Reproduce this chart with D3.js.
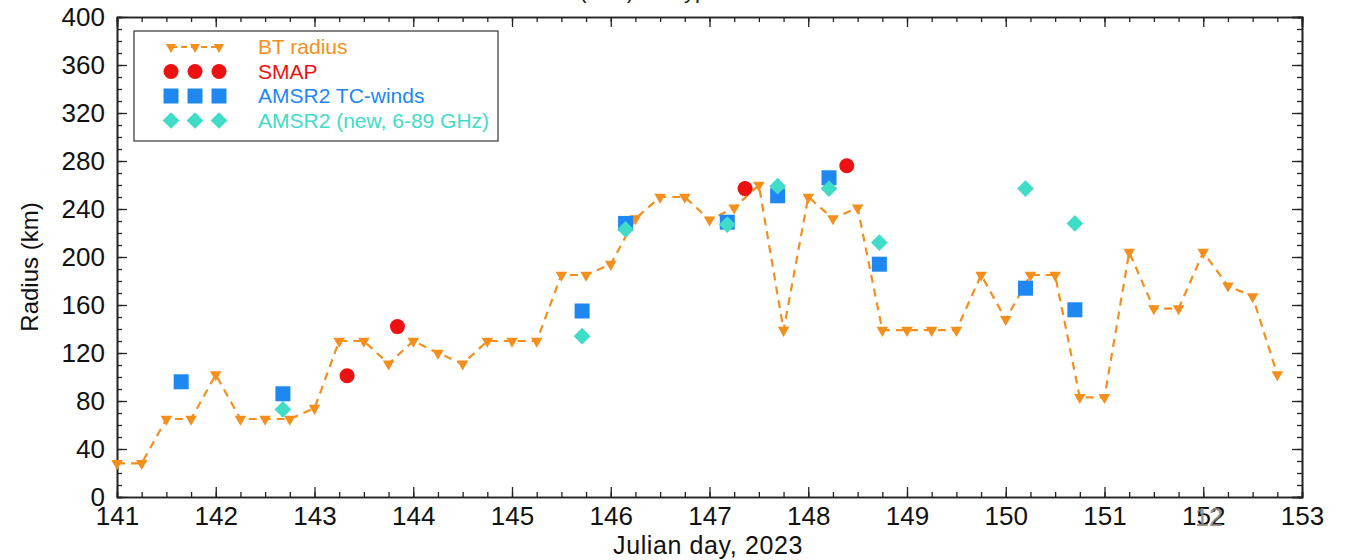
<!DOCTYPE html>
<html>
<head>
<meta charset="utf-8">
<script src="https://cdn.jsdelivr.net/npm/d3@7"></script>
<style>
  body { margin: 0; background: #fff; }
  svg { font-family: "Liberation Sans", Arial, sans-serif; }
</style>
</head>
<body>
<svg id="chart" width="1355" height="560"></svg>
<script>
// best track radius, every 6 h from day 141.00
var btStart = 141;
var btRadius = [28, 28, 65, 65, 102, 65, 65, 65, 74, 130, 130, 111, 130, 120, 111, 130,
  130, 130, 185, 185, 194, 232, 250, 250, 231, 241, 260, 139, 250, 232, 241, 139,
  139, 139, 139, 185, 148, 185, 185, 83, 83, 204, 157, 157, 204, 176, 167, 102];

var smapDay = [143.33, 143.84, 147.36, 148.39];
var smapRadius = [101, 142, 257, 276];

var tcwDay = [141.65, 142.68, 145.71, 146.15, 147.18, 147.69, 148.21, 148.72, 150.2, 150.7];
var tcwRadius = [96, 86, 155, 228, 229, 251, 266, 194, 174, 156];

var newDay = [142.68, 145.71, 146.15, 147.18, 147.69, 148.21, 148.72, 150.2, 150.7];
var newRadius = [73, 134, 223, 227, 259, 257, 212, 257, 228];

var xTicks = d3.range(141, 154, 1);
var yTicks = d3.range(0, 401, 40);

var colBT = "#f48f1e", colSMAP = "#ee1111", colTCW = "#1e88f0", colNew = "#3fdcc8";

function drawChart() {
  var svg = d3.select("#chart");
  var pLeft = 117, pRight = 1302, pTop = 17, pBottom = 497;

  var x = d3.scaleLinear().domain([141, 153]).range([pLeft, pRight]);
  var y = d3.scaleLinear().domain([0, 400]).range([pBottom, pTop]);

  // title (cut off at top of the slide)
  svg.append("text").attr("x", 720).attr("y", -2).attr("text-anchor", "middle")
    .attr("font-size", 22).attr("fill", "#222")
    .text("Radius of 34-kt winds (R34) for Typhoon Mawar: BT vs satellite estimates");

  // axes with ticks on all sides, pointing inward
  function frameAxis(axis, tr) {
    return svg.append("g").attr("transform", tr).call(axis)
      .call(function (g) { g.select(".domain").attr("stroke-width", 1.6).attr("stroke", "#222"); });
  }
  var xMinor = d3.range(141, 153.01, 0.25);
  var yMinor = d3.range(0, 401, 10);

  frameAxis(d3.axisBottom(x).tickValues(xMinor).tickSize(-5).tickFormat(""), "translate(0," + pBottom + ")");
  frameAxis(d3.axisBottom(x).tickValues(xTicks).tickSize(-10).tickSizeOuter(0).tickPadding(7).tickFormat(d3.format("d")), "translate(0," + pBottom + ")")
    .selectAll("text").attr("font-size", 26).attr("fill", "#111").attr("dy", "0.8em");
  frameAxis(d3.axisTop(x).tickValues(xMinor).tickSize(-5).tickFormat(""), "translate(0," + pTop + ")");
  frameAxis(d3.axisTop(x).tickValues(xTicks).tickSize(-10).tickFormat(""), "translate(0," + pTop + ")");

  frameAxis(d3.axisLeft(y).tickValues(yMinor).tickSize(-5).tickFormat(""), "translate(" + pLeft + ",0)");
  frameAxis(d3.axisLeft(y).tickValues(yTicks).tickSize(-10).tickSizeOuter(0).tickPadding(12).tickFormat(d3.format("d")), "translate(" + pLeft + ",0)")
    .selectAll("text").attr("font-size", 26).attr("fill", "#111");
  frameAxis(d3.axisRight(y).tickValues(yMinor).tickSize(-5).tickFormat(""), "translate(" + pRight + ",0)");
  frameAxis(d3.axisRight(y).tickValues(yTicks).tickSize(-10).tickFormat(""), "translate(" + pRight + ",0)");
  svg.selectAll(".tick line").attr("stroke", "#222").attr("stroke-width", 1.3);

  // axis titles
  svg.append("text").attr("x", 708).attr("y", 554).attr("text-anchor", "middle")
    .attr("font-size", 25).attr("letter-spacing", 0.6).attr("fill", "#111").text("Julian day, 2023");
  svg.append("text").attr("transform", "translate(38,267) rotate(-90)")
    .attr("text-anchor", "middle").attr("font-size", 24).attr("fill", "#111").text("Radius (km)");

  // BT radius dashed line + down triangles
  var btData = btRadius.map(function (v, i) { return { d: btStart + i * 0.25, v: v }; });
  var line = d3.line().x(function (p) { return x(p.d); }).y(function (p) { return y(p.v); });
  var g = svg.append("g");
  g.append("path").datum(btData).attr("d", line).attr("fill", "none")
    .attr("stroke", colBT).attr("stroke-width", 2.2).attr("stroke-dasharray", "8,6");

  var tri = d3.symbol().type(d3.symbolTriangle).size(58);
  g.selectAll(".bt").data(btData).enter().append("path")
    .attr("d", tri).attr("fill", colBT)
    .attr("transform", function (p) { return "translate(" + x(p.d) + "," + y(p.v) + ") rotate(180)"; });

  function pts(days, vals) { return days.map(function (d, i) { return { d: d, v: vals[i] }; }); }

  g.selectAll(".tcw").data(pts(tcwDay, tcwRadius)).enter().append("rect")
    .attr("x", function (p) { return x(p.d) - 7.5; }).attr("y", function (p) { return y(p.v) - 7.5; })
    .attr("width", 15).attr("height", 15).attr("fill", colTCW);

  g.selectAll(".new").data(pts(newDay, newRadius)).enter().append("path")
    .attr("d", d3.symbol().type(d3.symbolSquare).size(140)).attr("fill", colNew)
    .attr("transform", function (p) { return "translate(" + x(p.d) + "," + y(p.v) + ") rotate(45)"; });

  g.selectAll(".smap").data(pts(smapDay, smapRadius)).enter().append("circle")
    .attr("cx", function (p) { return x(p.d); }).attr("cy", function (p) { return y(p.v); })
    .attr("r", 7.5).attr("fill", colSMAP);

  // legend
  var lg = svg.append("g");
  lg.append("rect").attr("x", 134).attr("y", 31).attr("width", 364).attr("height", 110)
    .attr("fill", "#fff").attr("stroke", "#333").attr("stroke-width", 1.2);
  var legendItems = [
    { name: "BT radius", col: colBT, kind: "bt" },
    { name: "SMAP", col: colSMAP, kind: "circle" },
    { name: "AMSR2 TC-winds", col: colTCW, kind: "square" },
    { name: "AMSR2 (new, 6-89 GHz)", col: colNew, kind: "diamond" }
  ];
  var symX = [171, 195, 219];
  legendItems.forEach(function (it, i) {
    var cy = 47 + i * 24.5;
    if (it.kind === "bt") {
      lg.append("path").attr("d", "M" + symX[0] + "," + cy + "L" + symX[2] + "," + cy)
        .attr("stroke", it.col).attr("stroke-width", 2).attr("stroke-dasharray", "6,4");
    }
    symX.forEach(function (sx) {
      if (it.kind === "bt") {
        lg.append("path").attr("d", d3.symbol().type(d3.symbolTriangle).size(45)).attr("fill", it.col)
          .attr("transform", "translate(" + sx + "," + cy + ") rotate(180)");
      } else if (it.kind === "circle") {
        lg.append("circle").attr("cx", sx).attr("cy", cy).attr("r", 7.5).attr("fill", it.col);
      } else if (it.kind === "square") {
        lg.append("rect").attr("x", sx - 7.5).attr("y", cy - 7.5).attr("width", 15).attr("height", 15).attr("fill", it.col);
      } else {
        lg.append("path").attr("d", d3.symbol().type(d3.symbolSquare).size(140)).attr("fill", it.col)
          .attr("transform", "translate(" + sx + "," + cy + ") rotate(45)");
      }
    });
    lg.append("text").attr("x", 258).attr("y", cy + 7).attr("font-size", 21)
      .attr("fill", it.col).text(it.name);
  });

  // slide number overlay
  svg.append("text").attr("x", 1209).attr("y", 526).attr("text-anchor", "middle")
    .attr("font-size", 25).attr("fill", "#888").attr("opacity", 0.9).text("12");
}

drawChart();
</script>
</body>
</html>
